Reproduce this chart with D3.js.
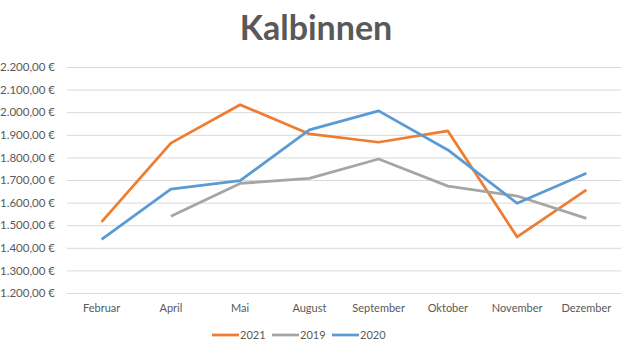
<!DOCTYPE html>
<html>
<head>
<meta charset="utf-8">
<script src="https://cdn.jsdelivr.net/npm/d3@7"></script>
<style>
  body { margin: 0; background: #fff; }
  svg { display: block; font-family: Lato, "Open Sans", sans-serif; }
</style>
</head>
<body>
<div id="chart"></div>
<script>
const months = ["Februar", "April", "Mai", "August", "September", "Oktober", "November", "Dezember"];
const yTicks = [1200, 1300, 1400, 1500, 1600, 1700, 1800, 1900, 2000, 2100, 2200];

const values2021 = [1515, 1863, 2033, 1904, 1867, 1917, 1448, 1656];
const values2019 = [null, 1540, 1685, 1707, 1793, 1673, 1629, 1530];
const values2020 = [1437, 1660, 1697, 1922, 2006, 1833, 1597, 1730];

const series = [
  { name: "2021", values: values2021, color: "#ED7D31" },
  { name: "2019", values: values2019, color: "#A5A5A5" },
  { name: "2020", values: values2020, color: "#5B9BD5" }
];

const W = 628, H = 353;
const dims = { left: 67, right: 7, top: 67, bottom: 60 };

const svg = d3.select("#chart").append("svg")
  .attr("width", W).attr("height", H);

const x = d3.scaleBand()
  .domain(months)
  .range([dims.left, W - dims.right]);

const y = d3.scaleLinear()
  .domain([1200, 2200])
  .range([H - dims.bottom, dims.top]);

const euro = v => d3.format(",.2f")(v).replace(/,/g, "#").replace(".", ",").replace(/#/g, ".") + " €";

// title
svg.append("text")
  .attr("x", 316).attr("y", 40)
  .attr("text-anchor", "middle")
  .attr("font-size", 34).attr("font-weight", "bold")
  .attr("fill", "#595959")
  .text("Kalbinnen");

// gridlines + y labels
const yAxis = svg.append("g")
  .attr("transform", `translate(${dims.left},0)`)
  .call(d3.axisLeft(y).tickValues(yTicks).tickFormat(euro)
    .tickSize(-(W - dims.left - dims.right)).tickPadding(12));
yAxis.select(".domain").remove();
yAxis.selectAll(".tick line").attr("stroke", "#D9D9D9");
yAxis.selectAll(".tick text")
  .attr("fill", "#595959").attr("font-size", 11.5)
  .attr("font-family", "Lato, 'Open Sans', sans-serif");

// x labels
const xAxis = svg.append("g")
  .attr("transform", `translate(0,${H - dims.bottom})`)
  .call(d3.axisBottom(x).tickSize(0).tickPadding(11));
xAxis.select(".domain").remove();
xAxis.selectAll(".tick text")
  .attr("fill", "#595959").attr("font-size", 11)
  .attr("font-family", "Lato, 'Open Sans', sans-serif");

// lines
const line = d3.line()
  .defined(d => d.v != null)
  .x(d => x(d.m) + x.bandwidth() / 2)
  .y(d => y(d.v));

for (const s of series) {
  svg.append("path")
    .datum(months.map((m, i) => ({ m: m, v: s.values[i] })))
    .attr("fill", "none")
    .attr("stroke", s.color)
    .attr("stroke-width", 2.75)
    .attr("stroke-linejoin", "round")
    .attr("d", line);
}

// legend
const legend = svg.append("g").attr("transform", "translate(212,335)");
series.forEach((s, i) => {
  const g = legend.append("g").attr("transform", `translate(${i * 60},0)`);
  g.append("line")
    .attr("x1", 0).attr("x2", 27).attr("y1", 0).attr("y2", 0)
    .attr("stroke", s.color).attr("stroke-width", 2.75);
  g.append("text")
    .attr("x", 28).attr("y", 4)
    .attr("font-size", 11).attr("fill", "#595959")
    .text(s.name);
});
</script>
</body>
</html>
